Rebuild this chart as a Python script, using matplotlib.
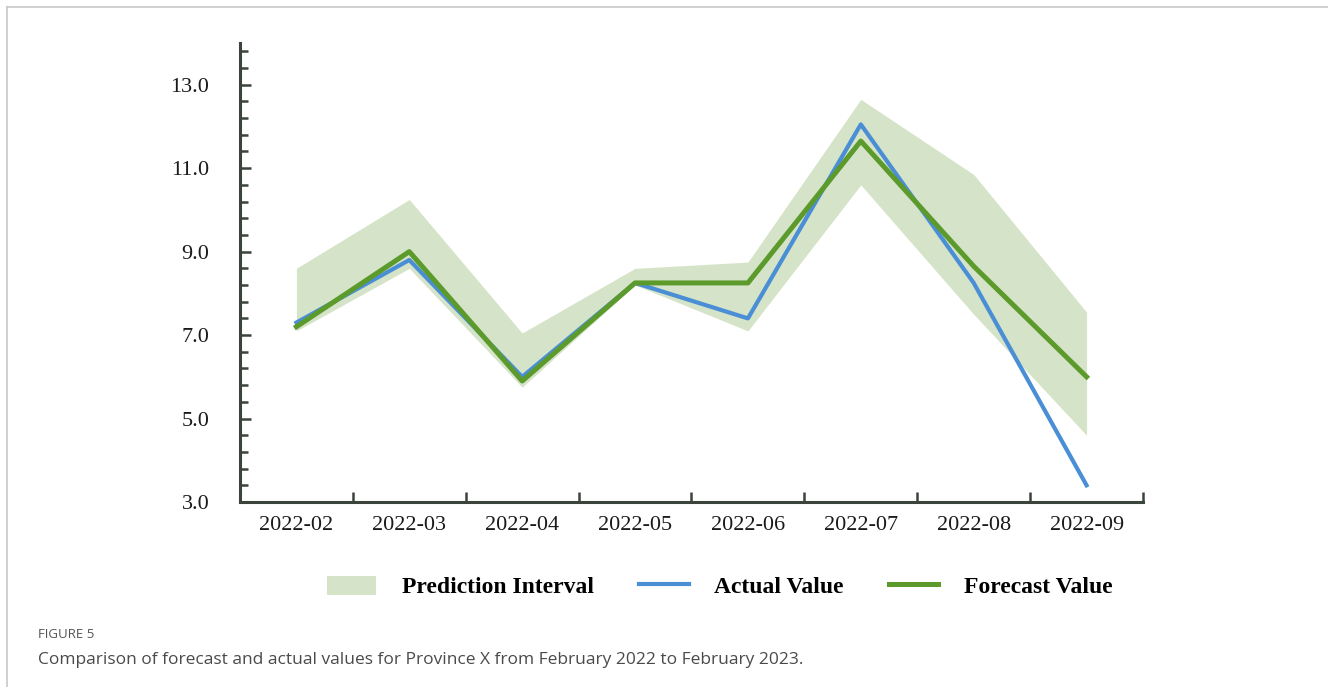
import numpy as np
import matplotlib.pyplot as plt
from matplotlib.patches import Patch
from matplotlib.lines import Line2D
from matplotlib.ticker import FixedLocator, FormatStrFormatter

months = ['2022-02', '2022-03', '2022-04', '2022-05', '2022-06', '2022-07', '2022-08', '2022-09']
actual = [7.3, 8.8, 6.0, 8.25, 7.4, 12.05, 8.25, 3.4]
forecast = [7.2, 9.0, 5.9, 8.25, 8.25, 11.65, 8.65, 6.0]
upper = [8.6, 10.25, 7.05, 8.6, 8.75, 12.65, 10.85, 7.55]
lower = [7.1, 8.6, 5.75, 8.2, 7.1, 10.6, 7.5, 4.6]

serif = 'Liberation Serif'
axis_col = '#3b443b'
fill_col = '#d5e4c8'
blue = '#4a8fd6'
green = '#5c9a2c'

fig = plt.figure(figsize=(13.28, 6.87), dpi=100)
ax = fig.add_axes([0.1807, 0.2693, 0.68, 0.6681])

x = np.arange(len(months))
ax.fill_between(x, lower, upper, color=fill_col, lw=0, zorder=1)
ax.plot(x, actual, color=blue, lw=3, zorder=2)
ax.plot(x, forecast, color=green, lw=3.6, zorder=3)

ax.set_xlim(-0.5, 7.5)
ax.set_ylim(3, 14)

ax.spines['top'].set_visible(False)
ax.spines['right'].set_visible(False)
for s in ['left', 'bottom']:
    ax.spines[s].set_color(axis_col)
    ax.spines[s].set_linewidth(2.2)

# y axis: labelled every 2, small ticks every 0.4
ax.yaxis.set_major_locator(FixedLocator([3, 5, 7, 9, 11, 13]))
ax.yaxis.set_minor_locator(FixedLocator(np.arange(3, 14.01, 0.4)))
ax.yaxis.set_major_formatter(FormatStrFormatter('%.1f'))
ax.tick_params(axis='y', which='both', direction='in', color=axis_col, width=1.8,
               labelsize=16, pad=22)
ax.tick_params(axis='y', which='major', length=8)
ax.tick_params(axis='y', which='minor', length=6)

# x axis: labels at the months, ticks between them
ax.set_xticks(x)
ax.set_xticklabels(months)
ax.xaxis.set_minor_locator(FixedLocator(np.arange(0.5, 7.6, 1.0)))
ax.tick_params(axis='x', which='major', length=0, labelsize=16, pad=10)
ax.tick_params(axis='x', which='minor', direction='in', length=7, width=1.8, color=axis_col)

for lab in ax.get_xticklabels() + ax.get_yticklabels():
    lab.set_fontfamily(serif)
    lab.set_color('#1a1a1a')

handles = [Patch(facecolor=fill_col, edgecolor='none'),
           Line2D([], [], color=blue, lw=3),
           Line2D([], [], color=green, lw=3.6)]
labels = ['Prediction Interval', 'Actual Value', 'Forecast Value']
fig.legend(handles, labels, loc='center', bbox_to_anchor=(0.542, 0.1456), ncol=3,
           frameon=False, prop={'family': serif, 'size': 17, 'weight': 'bold'},
           handlelength=2.1, handleheight=0.9, handletextpad=1.1, columnspacing=1.9)

# panel border, top and left edges only
fig.add_artist(Line2D([0.0053, 0.0053], [0, 0.99], transform=fig.transFigure,
                      color='#c8c8c8', lw=1.2))
fig.add_artist(Line2D([0.0053, 1.0], [0.99, 0.99], transform=fig.transFigure,
                      color='#c8c8c8', lw=1.2))

fig.text(0.0286, 0.0757, 'FIGURE 5', family='Open Sans', fontsize=9.5,
         color='#555555', va='center')
fig.text(0.0286, 0.040,
         'Comparison of forecast and actual values for Province X from February 2022 to February 2023.',
         family='Open Sans', fontsize=12.5, color='#4a4a4a', va='center')

fig.savefig('out.png', dpi=100)
